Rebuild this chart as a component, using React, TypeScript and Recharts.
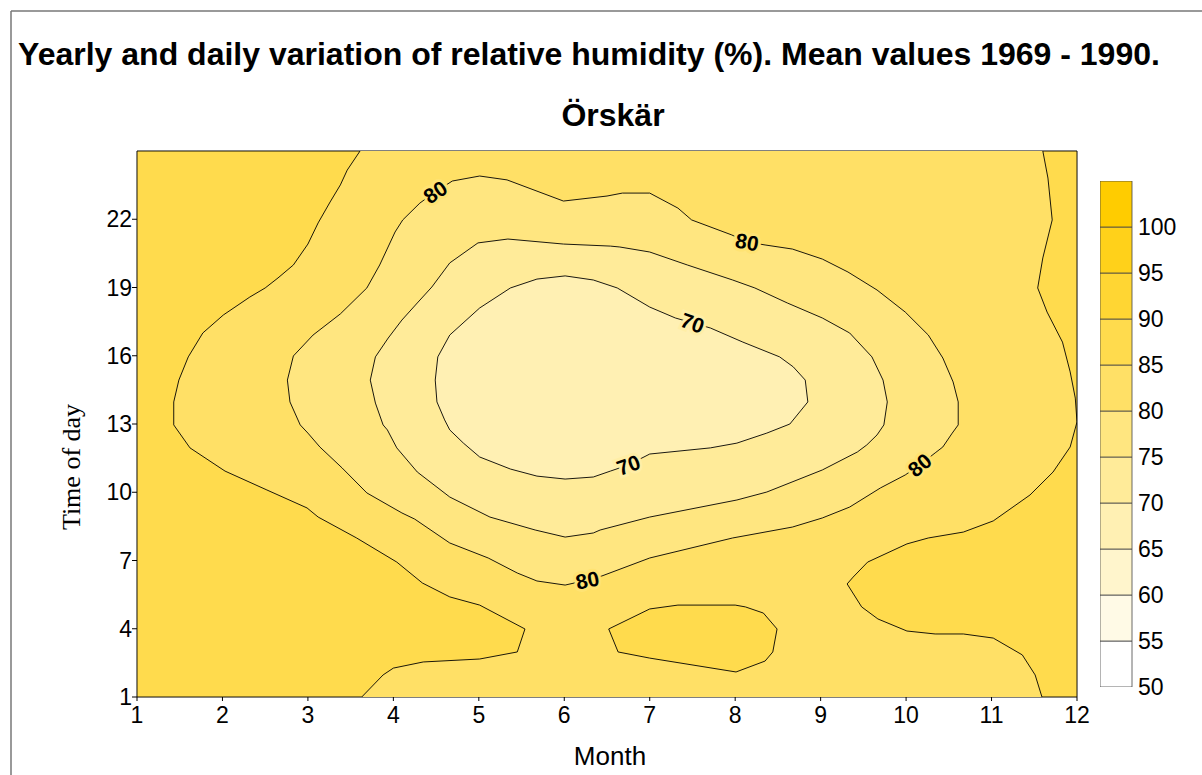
import React from "react";
import { ScatterChart, Scatter, XAxis, YAxis, Curve, BarChart, Bar } from "recharts";

const months = [1, 2, 3, 4, 5, 6, 7, 8, 9, 10, 11, 12];
const hourTicks = [1, 4, 7, 10, 13, 16, 19, 22];
const hourTicksRight = [5, 10, 15, 20, 25];
const scaleLevels = [50, 55, 60, 65, 70, 75, 80, 85, 90, 95, 100];

// outlines as [month, hour]
const plotBox = [[1, 1], [12, 1], [12, 25], [1, 25]];

const humid85West = [
  [1, 25], [3.61, 25], [3.46, 24.16], [3.38, 23.51], [3.26, 22.76], [3.12, 21.84], [3.0, 20.91],
  [2.83, 19.99], [2.65, 19.42], [2.5, 18.98], [2.32, 18.58], [2.01, 17.79], [1.77, 17.0],
  [1.6, 15.95], [1.49, 14.93], [1.43, 13.97], [1.43, 12.96], [1.62, 11.95], [2.03, 10.93],
  [2.52, 10.1], [2.99, 9.31], [3.12, 8.91], [3.57, 7.99], [4.04, 6.93], [4.34, 6.01],
  [4.66, 5.4], [5.01, 5.04], [5.54, 3.99], [5.45, 2.98], [5.01, 2.67], [4.35, 2.54],
  [4.0, 2.27], [3.88, 1.97], [3.63, 1], [1, 1],
];

const humid85East = [
  [12, 25], [11.6, 25], [11.66, 23.81], [11.71, 21.97], [11.6, 20.3], [11.54, 18.98],
  [11.65, 17.92], [11.83, 16.6], [11.92, 15.29], [11.98, 14.14], [12, 13.09], [11.92, 11.99],
  [11.72, 10.89], [11.45, 9.88], [11.02, 8.74], [10.67, 8.25], [10.26, 7.99], [10.01, 7.73],
  [9.55, 6.93], [9.38, 6.27], [9.31, 5.97], [9.48, 4.96], [9.67, 4.43], [10.01, 3.9],
  [10.34, 3.77], [10.67, 3.77], [11.02, 3.59], [11.36, 2.85], [11.51, 1.97], [11.59, 1], [12, 1],
];

const humid85Summer = [
  [6.52, 3.99], [7.0, 4.87], [7.33, 5.04], [8.0, 5.04], [8.12, 4.96], [8.33, 4.69],
  [8.49, 3.99], [8.44, 2.98], [8.35, 2.58], [8.01, 2.1], [7.0, 2.71], [6.63, 2.98],
];

const dry80 = [
  [5.01, 23.9], [5.33, 23.73], [5.99, 22.8], [6.5, 23.02], [6.68, 23.15], [7.0, 23.15],
  [7.33, 22.49], [7.49, 21.97], [7.96, 21.31], [8.14, 21.0], [8.35, 20.87], [8.67, 20.69],
  [9.02, 20.25], [9.32, 19.68], [9.66, 18.89], [9.99, 17.92], [10.26, 16.91], [10.43, 15.9],
  [10.55, 14.85], [10.61, 13.97], [10.61, 12.96], [10.54, 12.6], [10.43, 11.99], [10.34, 11.73],
  [10.16, 11.2], [9.99, 10.76], [9.7, 10.19], [9.34, 9.35], [9.02, 8.87], [8.67, 8.47],
  [7.97, 7.99], [7.0, 7.11], [6.44, 6.32], [6.27, 6.14], [6.01, 5.92], [5.68, 6.1],
  [5.45, 6.45], [5.11, 7.11], [4.66, 7.77], [4.25, 8.82], [4.1, 9.09], [3.69, 9.97],
  [3.4, 11.07], [3.14, 11.99], [3.0, 12.6], [2.91, 12.96], [2.79, 13.97], [2.76, 14.93],
  [2.83, 15.99], [3.06, 16.91], [3.38, 17.84], [3.69, 18.98], [3.84, 19.99], [4.02, 21.44],
  [4.11, 21.97], [4.31, 22.71], [4.49, 23.2], [4.69, 23.68],
];

const dry75 = [
  [4.99, 20.96], [5.34, 21.13], [5.99, 20.91], [6.54, 20.82], [6.65, 20.78], [7.0, 20.56],
  [7.44, 19.99], [7.97, 19.33], [8.23, 18.98], [8.61, 18.32], [9.02, 17.66], [9.34, 17.0],
  [9.6, 15.95], [9.73, 14.93], [9.78, 13.97], [9.74, 12.96], [9.66, 12.52], [9.54, 12.08],
  [9.43, 11.77], [9.02, 10.98], [8.37, 10.01], [8.02, 9.66], [7.0, 8.91], [6.42, 8.34],
  [6.34, 8.21], [6.01, 8.03], [5.66, 8.34], [5.13, 8.91], [4.66, 9.79], [4.28, 10.89],
  [4.04, 11.95], [3.93, 12.74], [3.88, 12.96], [3.79, 13.92], [3.73, 14.93], [3.79, 15.95],
  [3.94, 16.78], [4.1, 17.57], [4.28, 18.32], [4.45, 19.02], [4.66, 20.08],
];

const dry70 = [
  [5.37, 18.98], [5.68, 19.37], [6.01, 19.51], [6.34, 19.33], [6.62, 18.98], [7.0, 18.14],
  [7.3, 17.66], [7.71, 17.22], [8.09, 16.6], [8.52, 15.95], [8.68, 15.51], [8.82, 14.93],
  [8.85, 13.97], [8.64, 13.0], [8.37, 12.6], [8.02, 12.16], [7.71, 11.95], [7.0, 11.68],
  [6.75, 11.2], [6.54, 10.93], [6.34, 10.67], [6.01, 10.58], [5.68, 10.71], [5.37, 11.02],
  [5.01, 11.55], [4.82, 12.16], [4.66, 12.74], [4.6, 13.18], [4.51, 13.97], [4.49, 14.93],
  [4.52, 15.95], [4.66, 16.91], [5.01, 18.1],
];

const contourLabels = [
  { m: 4.49, h: 23.2, text: "80" },
  { m: 8.14, h: 21.0, text: "80" },
  { m: 7.5, h: 17.44, text: "70" },
  { m: 6.75, h: 11.2, text: "70" },
  { m: 6.27, h: 6.14, text: "80" },
  { m: 10.16, h: 11.2, text: "80" },
];
const labelTilt = [-34, 10, 20, -20, -12, -40];

// colours of the 5 % bands, 50-55 up to 100-105
const bandColors = [
  "#FFFFFF", "#FFFAE6", "#FFF5CC", "#FFF0B3", "#FFEB99", "#FFE680",
  "#FFE066", "#FFDB4D", "#FFD633", "#FFD11A", "#FFCC00",
];

const font = "'Liberation Sans', Arial, Helvetica, sans-serif";

const xy = (pairs: number[][]) => pairs.map(([m, h]) => ({ m, h }));

const region = (fill: string, stroke: string) => (p: any) => (
  <Curve
    type="linearClosed"
    points={p.points}
    fill={fill}
    stroke={stroke}
    strokeWidth={0.9}
    strokeLinejoin="round"
  />
);

const noDot = () => <g />;

const labelShape = (p: any) => {
  const i = contourLabels.indexOf(p.payload);
  const halo = p.payload.text === "80" ? "#FFE373" : "#FFEEA6";
  return (
    <text
      x={p.cx}
      y={p.cy}
      textAnchor="middle"
      dominantBaseline="central"
      transform={`rotate(${labelTilt[i] ?? 0} ${p.cx} ${p.cy})`}
      fontFamily={font}
      fontWeight="bold"
      fontSize={21}
      fill="#000"
      stroke={halo}
      strokeWidth={6}
      paintOrder="stroke"
    >
      {p.payload.text}
    </text>
  );
};

const scaleRow = [
  scaleLevels.reduce<Record<string, any>>((row, lo) => ({ ...row, [`b${lo}`]: 5 }), {
    name: "rh",
    base: 50,
  }),
];

const tickStyle = { fontSize: 23, fill: "#000", fontFamily: font };

export default function App() {
  return (
    <div style={{ position: "absolute", left: 0, top: 0, width: 1202, height: 775, background: "#fff" }}>
      <svg width={1202} height={775} style={{ position: "absolute", left: 0, top: 0 }}>
        <line x1={11} y1={11} x2={1202} y2={11} stroke="#777" strokeWidth={1.5} />
        <line x1={11} y1={11} x2={11} y2={775} stroke="#777" strokeWidth={1.5} />
        <text x={589} y={65} textAnchor="middle" fontFamily={font} fontWeight="bold" fontSize={32}>
          Yearly and daily variation of relative humidity (%). Mean values 1969 - 1990.
        </text>
        <text x={613} y={126} textAnchor="middle" fontFamily={font} fontWeight="bold" fontSize={32}>
          Örskär
        </text>
        <text x={610} y={765} textAnchor="middle" fontFamily={font} fontSize={26}>
          Month
        </text>
        <text
          x={71}
          y={467}
          textAnchor="middle"
          dominantBaseline="central"
          transform="rotate(-90 71 467)"
          fontFamily="'Liberation Serif', 'Times New Roman', serif"
          fontSize={26}
        >
          Time of day
        </text>
      </svg>

      <div style={{ position: "absolute", left: 0, top: 0 }}>
        <ScatterChart width={1202} height={775} margin={{ top: 141, right: 113, bottom: 0, left: 77 }}>
          <Scatter data={xy(plotBox)} xAxisId="t" yAxisId="r" shape={noDot} isAnimationActive={false} />
          <Scatter data={xy(plotBox)} xAxisId="b" yAxisId="l" shape={noDot} line={region(bandColors[6], "none")} isAnimationActive={false} />
          <Scatter data={xy(humid85West)} xAxisId="b" yAxisId="l" shape={noDot} line={region(bandColors[7], "#000")} isAnimationActive={false} />
          <Scatter data={xy(humid85East)} xAxisId="b" yAxisId="l" shape={noDot} line={region(bandColors[7], "#000")} isAnimationActive={false} />
          <Scatter data={xy(humid85Summer)} xAxisId="b" yAxisId="l" shape={noDot} line={region(bandColors[7], "#000")} isAnimationActive={false} />
          <Scatter data={xy(dry80)} xAxisId="b" yAxisId="l" shape={noDot} line={region(bandColors[5], "#000")} isAnimationActive={false} />
          <Scatter data={xy(dry75)} xAxisId="b" yAxisId="l" shape={noDot} line={region(bandColors[4], "#000")} isAnimationActive={false} />
          <Scatter data={xy(dry70)} xAxisId="b" yAxisId="l" shape={noDot} line={region(bandColors[3], "#000")} isAnimationActive={false} />
          <Scatter data={contourLabels} xAxisId="b" yAxisId="l" shape={labelShape} isAnimationActive={false} />

          <XAxis
            xAxisId="b"
            type="number"
            dataKey="m"
            domain={[1, 12]}
            ticks={months}
            interval={0}
            allowDataOverflow
            height={78}
            tickSize={4}
            tickMargin={6}
            tick={tickStyle}
            axisLine={{ stroke: "#000" }}
            tickLine={{ stroke: "#000" }}
          />
          <XAxis
            xAxisId="t"
            orientation="top"
            type="number"
            dataKey="m"
            domain={[1, 12]}
            ticks={months}
            interval={0}
            allowDataOverflow
            height={10}
            tickSize={4}
            tick={false}
            axisLine={{ stroke: "#000" }}
            tickLine={{ stroke: "#000" }}
          />
          <YAxis
            yAxisId="l"
            type="number"
            dataKey="h"
            domain={[1, 25]}
            ticks={hourTicks}
            interval={0}
            allowDataOverflow
            width={60}
            tickSize={5}
            tickMargin={0}
            tick={tickStyle}
            axisLine={{ stroke: "#000" }}
            tickLine={{ stroke: "#000" }}
          />
          <YAxis
            yAxisId="r"
            orientation="right"
            type="number"
            dataKey="h"
            domain={[1, 25]}
            ticks={hourTicksRight}
            interval={0}
            allowDataOverflow
            width={12}
            tickSize={6}
            tick={false}
            axisLine={{ stroke: "#000" }}
            tickLine={{ stroke: "#000" }}
          />
        </ScatterChart>
      </div>

      <div style={{ position: "absolute", left: 1100, top: 169 }}>
        <BarChart
          width={100}
          height={530}
          data={scaleRow}
          margin={{ top: 12, right: 0, bottom: 12, left: 0 }}
          barCategoryGap={0}
        >
          <XAxis dataKey="name" hide />
          <YAxis
            orientation="right"
            type="number"
            domain={[50, 105]}
            ticks={scaleLevels}
            interval={0}
            allowDataOverflow
            width={68}
            axisLine={false}
            tickLine={false}
            tickSize={0}
            tickMargin={6}
            tick={tickStyle}
          />
          <Bar dataKey="base" stackId="s" fill="none" isAnimationActive={false} />
          {scaleLevels.map((lo, i) => (
            <Bar
              key={lo}
              dataKey={`b${lo}`}
              stackId="s"
              fill={bandColors[i]}
              stroke="#444"
              strokeWidth={0.8}
              isAnimationActive={false}
            />
          ))}
        </BarChart>
      </div>
    </div>
  );
}
